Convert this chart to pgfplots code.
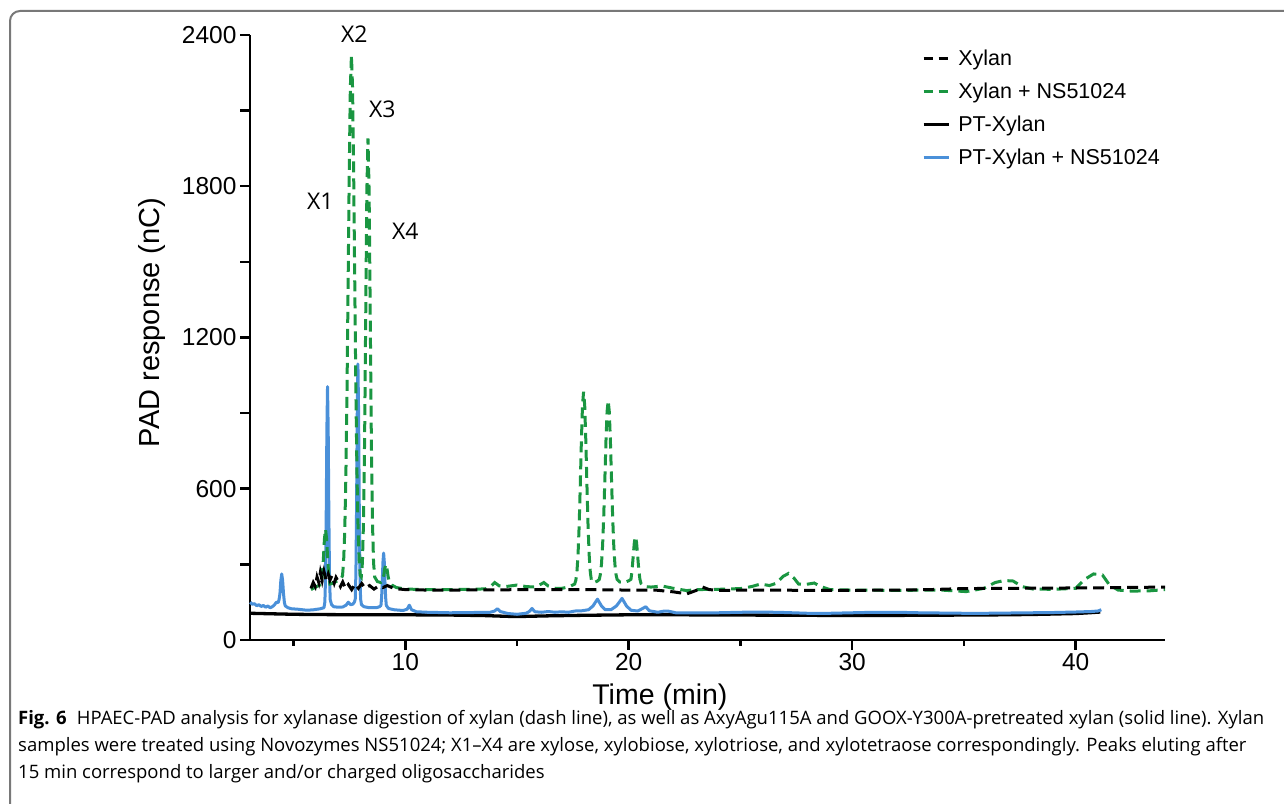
\documentclass[border=0pt]{standalone}
\usepackage{fontspec}
\setmainfont{Liberation Sans}
\newfontfamily\capfont{Open Sans}
\usepackage{pgfplots}
\pgfplotsset{compat=1.18}
\definecolor{cgreen}{RGB}{26,150,65}
\definecolor{cblue}{RGB}{74,144,217}
\definecolor{cframe}{RGB}{120,120,120}
\begin{document}
\begin{tikzpicture}[x=1pt,y=1pt]
\useasboundingbox (0,0) rectangle (1284,803);
\draw[cframe, line width=2pt, rounded corners=10pt] (10,-20) -- (10,792) -- (1300,792);
\begin{axis}[
  at={(250pt,163pt)}, anchor=south west, scale only axis,
  width=915pt, height=605pt,
  xmin=3.05, xmax=44, ymin=0, ymax=2400,
  axis x line*=bottom, axis y line*=left,
  axis line style={line width=2.5pt, -},
  clip=false,
  xtick={10,20,30,40}, minor xtick={5,15,25,35},
  ytick={0,600,1200,1800,2400},
  extra y ticks={300,900,1500,2100}, extra y tick labels={},
  tick align=outside,
  major tick length=10pt, minor tick length=6pt,
  every tick/.style={line width=2.5pt, black},
  tick label style={font=\fontsize{24.5}{28}\selectfont},
  /pgf/number format/assume math mode=true,
  /pgf/number format/1000 sep={},
  xlabel={Time (min)}, ylabel={PAD response (nC)},
  xlabel style={font=\fontsize{28.5}{32}\selectfont, at={(rel axis cs:0.448,-0.094)}, anchor=center},
  ylabel style={font=\fontsize{29}{32}\selectfont, at={(rel axis cs:-0.107,0.525)}, anchor=center},
  legend style={at={(rel axis cs:0.731,0.982)}, anchor=north west, draw=none, fill=none,
    font=\fontsize{21.5}{24}\selectfont, row sep=12pt, column sep=6pt},
  legend cell align=left,
  legend image code/.code={\draw[#1] (0pt,0pt) -- (25pt,0pt);},
]
\addlegendimage{black, line width=3pt, dash pattern=on 9pt off 6pt}
\addlegendentry{Xylan}
\addlegendimage{cgreen, line width=3pt, dash pattern=on 9pt off 6pt}
\addlegendentry{Xylan + NS51024}
\addlegendimage{black, line width=3.3pt}
\addlegendentry{PT-Xylan}
\addlegendimage{cblue, line width=3pt}
\addlegendentry{PT-Xylan + NS51024}

% PT-Xylan (black solid)
\addplot[forget plot, black, line width=3.3pt] coordinates {
(3.06,106) (4,104) (5,102) (6,101) (8,100) (10,100) (12,99) (13.5,97) (14.5,94) (15,93) (15.5,94) (16.5,96) (18,98) (20,100) (22,100) (25,99) (28,98) (30,97) (33,98) (35,99) (37,100) (38.5,102) (40,105) (40.6,108) (41.1,111)
};
% PT-Xylan + NS51024 (blue)
\addplot[forget plot, cblue, line width=3pt, line join=round] coordinates {
(3.06,150) (3.15,142) (3.25,144) (3.35,136) (3.45,140) (3.55,133) (3.65,137) (3.75,130) (3.85,135) (3.95,128) (4.05,132) (4.15,140) (4.23,150) (4.31,148) (4.35,160) (4.39,184) (4.43,236) (4.47,262) (4.51,236) (4.55,184) (4.59,148) (4.63,135) (4.75,128) (4.9,124) (5.2,122) (5.6,118) (5.9,120) (6.2,124) (6.36,128) (6.4,150) (6.43,244) (6.46,487) (6.49,829) (6.52,1005) (6.55,829) (6.58,487) (6.61,244) (6.64,160) (6.7,140) (6.8,132) (7.0,130) (7.2,131) (7.35,138) (7.45,150) (7.55,140) (7.65,142) (7.72,150) (7.76,162) (7.79,265) (7.82,530) (7.85,903) (7.88,1095) (7.91,903) (7.94,530) (7.97,265) (8.0,162) (8.04,140) (8.15,132) (8.4,128) (8.7,128) (8.85,132) (8.91,137) (8.94,169) (8.97,232) (9.0,309) (9.03,345) (9.06,309) (9.09,232) (9.12,169) (9.15,137) (9.25,125) (9.5,120) (9.9,117) (10.08,122) (10.18,138) (10.28,120) (10.5,112) (11,110) (12,108) (13,109) (13.8,110) (14.0,115) (14.12,124) (14.25,113) (14.6,105) (15.0,102) (15.4,106) (15.55,113) (15.67,125) (15.8,112) (16.1,110) (16.4,113) (16.7,110) (17.0,112) (17.3,110) (17.6,115) (17.9,116) (18.2,120) (18.4,135) (18.6,162) (18.78,135) (18.95,120) (19.2,120) (19.45,135) (19.7,165) (19.9,135) (20.1,118) (20.4,115) (20.6,124) (20.76,132) (20.92,116) (21.3,110) (21.6,115) (21.8,114) (22.1,108) (23,108) (24,108) (25,110) (26,111) (27,109) (28,106) (29,106) (30,108) (31,110) (32,110) (33,108) (34,107) (35,106) (36,106) (37,107) (38,108) (39,109) (40,111) (40.7,113) (41.0,115) (41.15,120)
};
% Xylan + NS51024 (green dashed)
\addplot[forget plot, cgreen, line width=3pt, dash pattern=on 11pt off 6pt] coordinates {
(5.78,200) (5.95,208) (6.1,215) (6.23,220) (6.28,250) (6.33,315) (6.38,399) (6.43,440) (6.48,399) (6.53,315) (6.58,250) (6.63,222) (6.75,225) (6.9,232) (7.05,235) (7.14,245) (7.19,255) (7.24,312) (7.29,431) (7.34,646) (7.39,977) (7.44,1403) (7.49,1847) (7.54,2190) (7.59,2320) (7.64,2190) (7.69,1847) (7.74,1403) (7.79,977) (7.84,646) (7.89,431) (7.94,312) (7.99,255) (8.03,250) (8.08,307) (8.13,468) (8.18,802) (8.23,1298) (8.28,1782) (8.33,1990) (8.38,1782) (8.43,1298) (8.48,802) (8.53,468) (8.58,307) (8.63,250) (8.75,232) (8.9,228) (8.98,233) (9.03,252) (9.08,283) (9.13,300) (9.18,283) (9.23,252) (9.28,233) (9.4,218) (9.6,208) (10,202) (11,200) (12,200) (13,201) (13.6,203) (13.85,215) (14.0,228) (14.2,215) (14.5,212) (15.0,218) (15.4,212) (15.8,210) (16.0,218) (16.2,228) (16.4,214) (16.7,205) (17.0,205) (17.3,210) (17.58,222) (17.63,236) (17.68,269) (17.73,336) (17.78,451) (17.83,611) (17.88,788) (17.93,930) (17.98,985) (18.03,930) (18.08,788) (18.13,611) (18.18,451) (18.23,336) (18.28,269) (18.33,236) (18.38,228) (18.5,230) (18.6,234) (18.68,240) (18.73,260) (18.78,301) (18.83,375) (18.88,488) (18.93,634) (18.98,788) (19.03,905) (19.08,950) (19.13,905) (19.18,788) (19.23,634) (19.28,488) (19.33,375) (19.38,301) (19.43,260) (19.48,240) (19.6,230) (19.8,228) (20.0,235) (20.1,241) (20.15,278) (20.2,333) (20.25,387) (20.3,410) (20.35,387) (20.4,333) (20.45,278) (20.5,241) (20.55,224) (20.7,212) (21.0,210) (21.5,214) (22.0,205) (22.6,196) (23.0,200) (24.0,201) (25.0,204) (25.5,212) (25.9,222) (26.3,216) (26.6,225) (26.9,252) (27.15,264) (27.4,245) (27.6,222) (27.9,220) (28.3,226) (28.6,212) (29.0,200) (30,198) (32,197) (34,198) (35.1,192) (35.9,205) (36.4,228) (36.8,236) (37.2,234) (37.6,212) (38.1,202) (39,201) (40,205) (40.4,240) (40.8,262) (41.2,258) (41.5,220) (41.9,198) (42.5,194) (43.3,195) (44,200)
};
% Xylan (black dashed)
\addplot[forget plot, black, line width=3pt, dash pattern=on 11pt off 6pt] coordinates {
(5.78,205) (5.88,228) (5.97,212) (6.05,250) (6.13,228) (6.2,268) (6.28,236) (6.36,272) (6.45,240) (6.55,262) (6.63,238) (6.72,256) (6.82,226) (6.9,248) (7.0,232) (7.1,212) (7.2,230) (7.32,205) (7.45,220) (7.6,200) (7.75,222) (7.9,205) (8.05,224) (8.2,206) (8.4,216) (8.6,202) (8.8,214) (9.0,208) (9.2,216) (9.5,204) (10,200) (11,198) (12,198) (14,199) (16,200) (18,200) (20,198) (21.2,198) (22,191) (22.6,183) (23.0,196) (23.3,210) (23.6,200) (24,197) (26,198) (28,197) (30,197) (32,198) (33.5,200) (35,204) (37,205) (39,206) (41,207) (43,209) (44,210)
};
\node[font=\capfont\fontsize{23}{26}\selectfont] at (axis cs:6.2,1741) {X1};
\node[font=\capfont\fontsize{23}{26}\selectfont] at (axis cs:7.72,2404) {X2};
\node[font=\capfont\fontsize{23}{26}\selectfont] at (axis cs:8.97,2106) {X3};
\node[font=\capfont\fontsize{23}{26}\selectfont] at (axis cs:10.0,1622) {X4};
\end{axis}
\begin{scope}[every node/.style={anchor=base west, inner sep=0pt, font=\capfont\fontsize{18.5}{21}\selectfont}]
\node at (18,79) {\textbf{Fig. 6}\hspace{0.55em}HPAEC-PAD analysis for xylanase digestion of xylan (dash line), as well as AxyAgu115A and GOOX-Y300A-pretreated xylan (solid line). Xylan};
\node at (18,52) {samples were treated using Novozymes NS51024; X1–X4 are xylose, xylobiose, xylotriose, and xylotetraose correspondingly. Peaks eluting after};
\node at (18,25) {15 min correspond to larger and/or charged oligosaccharides};
\end{scope}
\end{tikzpicture}
\end{document}
